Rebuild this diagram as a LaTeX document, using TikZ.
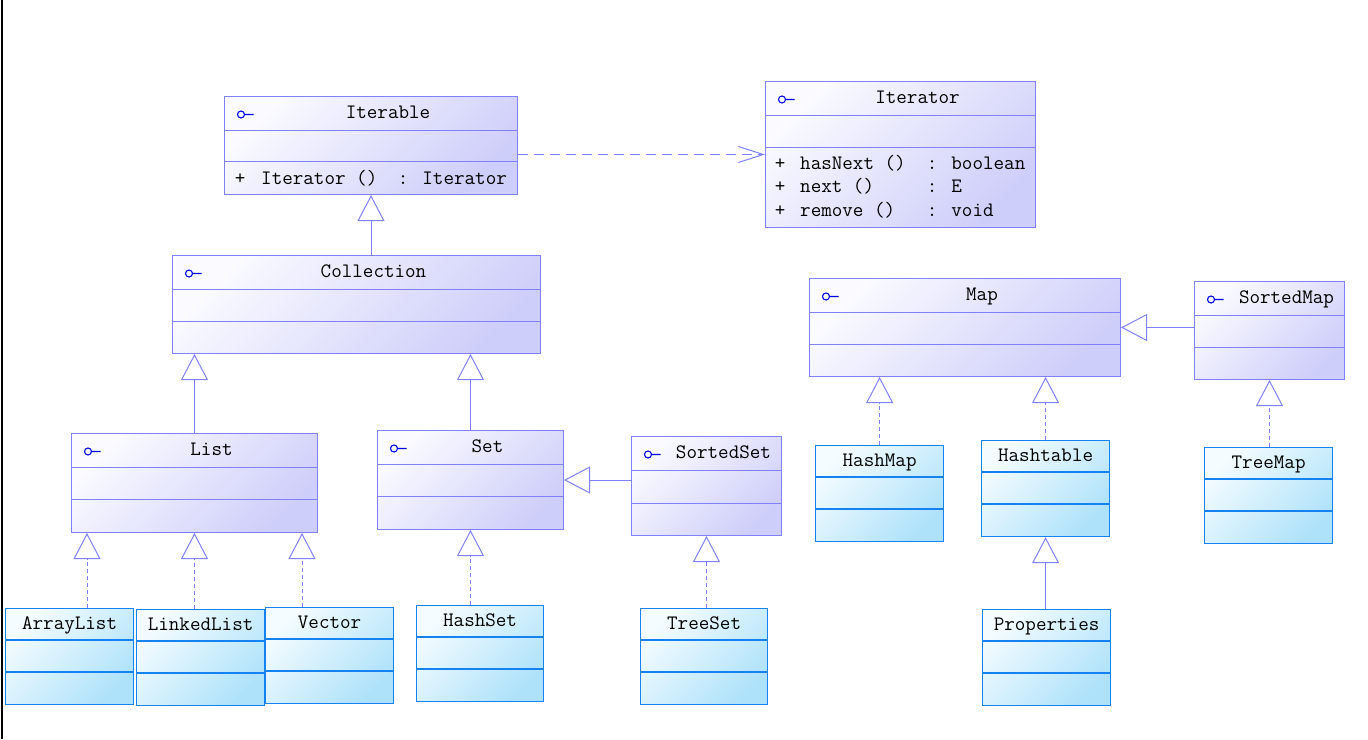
\documentclass[tikz,border=0pt]{standalone}
\usepackage{tikz}
\usetikzlibrary{arrows.meta}
\usetikzlibrary{calc}

\definecolor{ifaceline}{RGB}{128,128,248}
\definecolor{ifacetop}{RGB}{250,250,255}
\definecolor{ifacefill}{RGB}{206,206,250}
\definecolor{classline}{RGB}{20,130,240}
\definecolor{classtop}{RGB}{244,252,255}
\definecolor{classfill}{RGB}{174,226,250}
\definecolor{iconblue}{RGB}{0,0,230}

\newcommand{\umlfont}{\fontsize{20.5}{24}\selectfont\ttfamily}

\tikzset{> = latex,
	iface/.style={draw=ifaceline, line width=1pt, top color=ifacetop, bottom color=ifacefill, shading angle=45,
		path picture={\draw[draw=iconblue, line width=1.1pt] ($(path picture bounding box.north west)+(16.5,18)$) circle[radius=3.5] ++(3.5,0) -- ++(9,0);}},
	iface line/.style={draw=ifaceline, line width=1pt},
	iface title/.style={font=\umlfont, text height=14pt, text depth=3pt, inner sep=0pt, xshift=17pt},
	class/.style={draw=classline, line width=1.2pt, top color=classtop, bottom color=classfill, shading angle=45},
	class line/.style={draw=classline, line width=1.2pt},
	class title/.style={font=\umlfont, text height=14pt, text depth=3pt, inner sep=0pt},
	op/.style={font=\umlfont, anchor=base west, inner sep=0pt},
	inherit/.style={draw=ifaceline, line width=1pt, -{Triangle[open, length=26pt, width=27pt]}},
	realize/.style={inherit, dash pattern=on 4pt off 3pt},
	depend/.style={draw=ifaceline, line width=1pt, dash pattern=on 10pt off 6pt, -{Straight Barb[length=25pt, width=16pt]}}
}

% box with three compartments: [style]{name}{x}{y}{width}{title h}{middle h}{bottom h}{title}
\newcommand{\umlbox}[9][iface]{%
	\node[#1, minimum width=#5, minimum height=#6+#7+#8, anchor=north west] (#2) at (#3,#4) {};
	\draw[#1 line] ($(#2.north west)+(0,#6)$) -- ($(#2.north east)+(0,#6)$);
	\draw[#1 line] ($(#2.north west)+(0,#6+#7)$) -- ($(#2.north east)+(0,#6+#7)$);
	\node[#1 title] (#2-title) at ($(#2.north)+(0,#6/2)$) {#9};
}

\begin{document}
\begin{tikzpicture}[x=1pt, y=-1pt]
	\useasboundingbox (0,0) rectangle (1368,739);
	\draw[line width=2pt] (2,0) -- (2,739);

	% interfaces
	\umlbox{iterable}{224}{96}{293}{34}{31}{33}{Iterable}
	\umlbox{iterator}{765}{81}{270}{34}{32}{80}{Iterator}
	\umlbox{collection}{172}{255}{368}{34}{32}{32}{Collection}
	\umlbox{list}{71}{433}{246}{34}{32}{33}{List}
	\umlbox{set}{377}{430}{186}{34}{32}{33}{Set}
	\umlbox{sortedset}{631}{436}{150}{34}{33}{32}{SortedSet}
	\umlbox{map}{809}{278}{311}{34}{32}{32}{Map}
	\umlbox{sortedmap}{1194}{281}{150}{34}{32}{32}{SortedMap}

	% classes
	\umlbox[class]{arraylist}{5}{608}{128}{32}{32}{32}{ArrayList}
	\umlbox[class]{linkedlist}{136}{609}{128}{32}{32}{32}{LinkedList}
	\umlbox[class]{vector}{265}{607}{128}{32}{32}{32}{Vector}
	\umlbox[class]{hashset}{416}{605}{127}{32}{32}{32}{HashSet}
	\umlbox[class]{treeset}{640}{608}{127}{32}{32}{32}{TreeSet}
	\umlbox[class]{hashmap}{815}{445}{128}{32}{32}{32}{HashMap}
	\umlbox[class]{hashtable}{981}{440}{128}{32}{32}{32}{Hashtable}
	\umlbox[class]{properties}{982}{609}{128}{32}{32}{32}{Properties}
	\umlbox[class]{treemap}{1204}{447}{128}{32}{32}{32}{TreeMap}

	% operations
	\node[op] (iterable-op1-vis) at ($(iterable.north west)+(10.6,88)$) {+};
	\node[op] (iterable-op1) at ($(iterable.north west)+(37,88)$) {Iterator ()};
	\node[op] (iterable-op1-type) at ($(iterable.north west)+(173.6,88)$) {: Iterator};
	\node[op] (iterator-op1-vis) at ($(iterator.north west)+(9.6,88)$) {+};
	\node[op] (iterator-op1) at ($(iterator.north west)+(35,88)$) {hasNext ()};
	\node[op] (iterator-op1-type) at ($(iterator.north west)+(161.6,88)$) {: boolean};
	\node[op] (iterator-op2-vis) at ($(iterator.north west)+(9.6,111.5)$) {+};
	\node[op] (iterator-op2) at ($(iterator.north west)+(35,111.5)$) {next ()};
	\node[op] (iterator-op2-type) at ($(iterator.north west)+(161.6,111.5)$) {: E};
	\node[op] (iterator-op3-vis) at ($(iterator.north west)+(9.6,135)$) {+};
	\node[op] (iterator-op3) at ($(iterator.north west)+(35,135)$) {remove ()};
	\node[op] (iterator-op3-type) at ($(iterator.north west)+(161.6,135)$) {: void};

	% connectors
	\coordinate (dep) at ($(iterable.east)+(0,9)$);
	\draw[depend] (dep) -- (dep -| iterator.west);
	\draw[inherit] (iterable.south |- collection.north) -- (iterable.south);
	\draw[inherit] (list.north) -- (list.north |- collection.south);
	\draw[inherit] (set.north) -- (set.north |- collection.south);
	\draw[inherit] (sortedset.west |- set.east) -- (set.east);
	\draw[inherit] (sortedmap.west |- map.east) -- (map.east);
	\draw[inherit] (properties.north -| hashtable.south) -- (hashtable.south);

	\coordinate (list-a) at ($(list.south west)+(16,0)$);
	\coordinate (list-c) at ($(list.south east)+(-16,0)$);
	\draw[realize] (arraylist.north -| list-a) -- (list-a);
	\draw[realize] (linkedlist.north -| list.south) -- (list.south);
	\draw[realize] (vector.north -| list-c) -- (list-c);
	\draw[realize] (hashset.north -| set.south) -- (set.south);
	\draw[realize] (treeset.north -| sortedset.south) -- (sortedset.south);
	\draw[realize] (hashmap.north) -- (hashmap.north |- map.south);
	\draw[realize] (hashtable.north) -- (hashtable.north |- map.south);
	\draw[realize] (treemap.north -| sortedmap.south) -- (sortedmap.south);
\end{tikzpicture}
\end{document}
